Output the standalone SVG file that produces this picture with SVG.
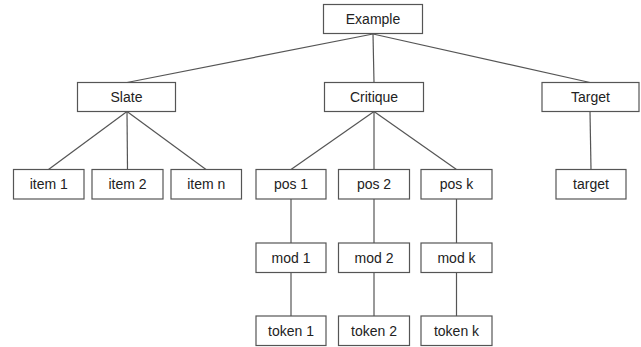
<svg xmlns="http://www.w3.org/2000/svg" width="641" height="347" viewBox="0 0 641 347">
<style>
.box{fill:#fff;stroke:#555;stroke-width:1.2}
.lbl{font-family:"Liberation Sans",Arial,sans-serif;font-size:14px;fill:#222;text-anchor:middle;dominant-baseline:central}
.edge{stroke:#555;stroke-width:1.2;fill:none}
</style>
<rect width="641" height="347" fill="#fff"/>
<g id="connectors">
<line class="edge" x1="373" y1="34" x2="127" y2="82.5"/>
<line class="edge" x1="373" y1="34" x2="374" y2="82.5"/>
<line class="edge" x1="373" y1="34" x2="590" y2="82.5"/>
<line class="edge" x1="127" y1="111.5" x2="48.5" y2="169.5"/>
<line class="edge" x1="127" y1="111.5" x2="127.5" y2="169.5"/>
<line class="edge" x1="127" y1="111.5" x2="206" y2="169.5"/>
<line class="edge" x1="374" y1="111.5" x2="291" y2="169.5"/>
<line class="edge" x1="374" y1="111.5" x2="374" y2="169.5"/>
<line class="edge" x1="374" y1="111.5" x2="456.5" y2="169.5"/>
<line class="edge" x1="590" y1="111.5" x2="591" y2="169.5"/>
<line class="edge" x1="291" y1="199" x2="291" y2="243"/>
<line class="edge" x1="374" y1="199" x2="374" y2="243"/>
<line class="edge" x1="456.5" y1="199" x2="456.5" y2="243"/>
<line class="edge" x1="291" y1="272.5" x2="291" y2="316"/>
<line class="edge" x1="374" y1="272.5" x2="374" y2="316"/>
<line class="edge" x1="456.5" y1="272.5" x2="456.5" y2="316"/>
</g>
<g id="example"><rect class="box" x="323.5" y="4.5" width="99" height="29"/><text class="lbl" x="373" y="19">Example</text></g>
<g id="slate"><rect class="box" x="77.5" y="82.5" width="98" height="29"/><text class="lbl" x="126.5" y="97">Slate</text></g>
<g id="critique"><rect class="box" x="324.5" y="82.5" width="99" height="29"/><text class="lbl" x="374" y="97">Critique</text></g>
<g id="target-top"><rect class="box" x="542" y="82.5" width="97" height="29"/><text class="lbl" x="590.5" y="97">Target</text></g>
<g id="item1"><rect class="box" x="13.5" y="169.5" width="70.5" height="29.5"/><text class="lbl" x="48.75" y="184.25">item 1</text></g>
<g id="item2"><rect class="box" x="92" y="169.5" width="71" height="29.5"/><text class="lbl" x="127.5" y="184.25">item 2</text></g>
<g id="itemn"><rect class="box" x="171" y="169.5" width="70.5" height="29.5"/><text class="lbl" x="206.25" y="184.25">item n</text></g>
<g id="pos1"><rect class="box" x="256" y="169.5" width="70" height="29.5"/><text class="lbl" x="291" y="184.25">pos 1</text></g>
<g id="pos2"><rect class="box" x="338.5" y="169.5" width="71" height="29.5"/><text class="lbl" x="374" y="184.25">pos 2</text></g>
<g id="posk"><rect class="box" x="421" y="169.5" width="71" height="29.5"/><text class="lbl" x="456.5" y="184.25">pos k</text></g>
<g id="target"><rect class="box" x="556" y="169.5" width="70" height="29.5"/><text class="lbl" x="591" y="184.25">target</text></g>
<g id="mod1"><rect class="box" x="256" y="243" width="70" height="29.5"/><text class="lbl" x="291" y="257.75">mod 1</text></g>
<g id="mod2"><rect class="box" x="338.5" y="243" width="71" height="29.5"/><text class="lbl" x="374" y="257.75">mod 2</text></g>
<g id="modk"><rect class="box" x="421" y="243" width="71" height="29.5"/><text class="lbl" x="456.5" y="257.75">mod k</text></g>
<g id="token1"><rect class="box" x="256" y="316" width="70" height="29.5"/><text class="lbl" x="291" y="330.75">token 1</text></g>
<g id="token2"><rect class="box" x="338.5" y="316" width="71" height="29.5"/><text class="lbl" x="374" y="330.75">token 2</text></g>
<g id="tokenk"><rect class="box" x="421" y="316" width="71" height="29.5"/><text class="lbl" x="456.5" y="330.75">token k</text></g>
</svg>
